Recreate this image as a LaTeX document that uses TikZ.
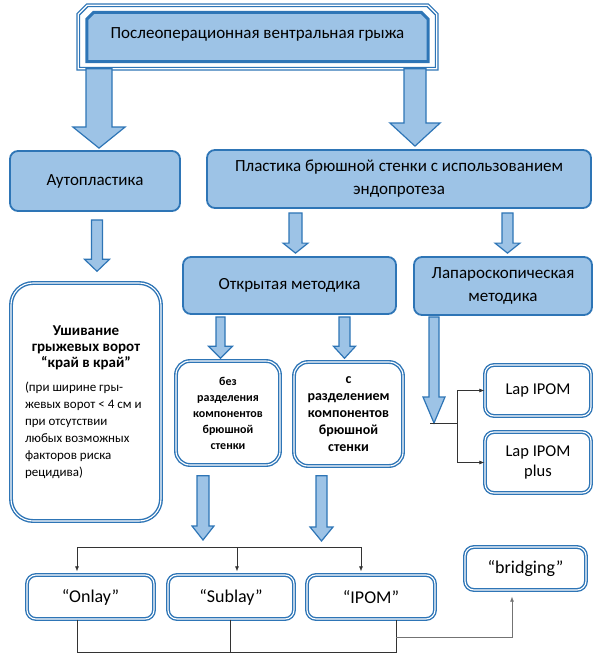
\documentclass[tikz,border=0pt]{standalone}
\usepackage{fontspec}
\setmainfont{Carlito}
\usetikzlibrary{arrows.meta,calc}

\definecolor{boxfill}{RGB}{157,195,230}
\definecolor{boxline}{RGB}{46,117,182}

\tikzset{
  bluebox/.style={rectangle,rounded corners=8pt,fill=boxfill,draw=boxline,line width=1.8pt,
    align=center,font=\fontsize{17}{23}\selectfont},
  whitebox/.style={rectangle,rounded corners=9pt,fill=white,draw=boxline,line width=1.4pt,
    double=white,double distance=1.1pt,align=center,font=\fontsize{18}{21}\selectfont},
  fatarrow/.style={fill=boxfill,draw=boxline,line width=1.2pt,line join=miter},
  link/.style={draw=black!80,line width=0.6pt},
}

% block arrow: start, tip, shaft half width, head half width, head length
\newcommand{\fatarrow}[5]{%
  \path[fatarrow] let \p1=#1, \p2=#2 in
    (\x1-#3,\y1) -- (\x1+#3,\y1) -- (\x1+#3,\y2+#5) -- (\x1+#4,\y2+#5) -- (\x1,\y2)
    -- (\x1-#4,\y2+#5) -- (\x1-#3,\y2+#5) -- cycle;
}

\begin{document}
\begin{tikzpicture}[x=1pt,y=-1pt,>={Latex[length=5pt,width=4pt]}]

	\useasboundingbox (0,0) rectangle (599,660);

	% top of the tree

	\node[minimum width=358pt,minimum height=63pt,inner sep=0pt] (topframe) at (257.5,37) {};
	\node[minimum width=341pt,minimum height=49pt,inner sep=0pt] (top) at (257.5,37) {};
	\draw[draw=boxline,line width=1.3pt,double=white,double distance=1.2pt,fill=white]
	  (topframe.south west) -- ($(topframe.north west)+(0,9)$) -- ($(topframe.north west)+(9,0)$)
	  -- ($(topframe.north east)+(-9,0)$) -- ($(topframe.north east)+(0,9)$) -- (topframe.south east) -- cycle;
	\draw[draw=boxline,line width=3pt,fill=boxfill]
	  (top.south west) -- ($(top.north west)+(0,7)$) -- ($(top.north west)+(7,0)$)
	  -- ($(top.north east)+(-7,0)$) -- ($(top.north east)+(0,7)$) -- (top.south east) -- cycle;
	\node[font=\fontsize{17}{20}\selectfont] (toptext) at ($(top.center)+(0,-3)$)
	  {Послеоперационная вентральная грыжа};

	\node[bluebox,minimum width=170pt,minimum height=60pt] (auto) at (95,181) {Аутопластика};
	\node[bluebox,minimum width=384pt,minimum height=58pt] (plast) at (399,179)
	  {Пластика брюшной стенки с использованием\\эндопротеза};

	% second level

	\node[whitebox,rounded corners=22pt,minimum width=150pt,minimum height=238pt] (suture) at (86,402)
	  {\parbox{122pt}{\centering\bfseries\fontsize{15}{16}\selectfont Ушивание\\грыжевых ворот\\“край в край”\par
	   \vspace{7pt}\raggedright\mdseries\fontsize{13}{17}\selectfont (при ширине гры-\\жевых ворот < 4 см и\\
	   при отсутствии\\любых возможных\\факторов риска\\рецидива)\par}};

	\node[bluebox,minimum width=213pt,minimum height=57pt] (open) at (289.5,285.5) {Открытая методика};
	\node[bluebox,minimum width=178pt,minimum height=58pt] (lap) at (503,286)
	  {Лапароскопическая\\методика};

	% third level

	\node[whitebox,rounded corners=14pt,minimum width=104pt,minimum height=104pt,
	  font=\bfseries\fontsize{12}{16}\selectfont]
	  (nosep) at (228,413) {без\\разделения\\компонентов\\брюшной\\стенки};
	\node[whitebox,rounded corners=14pt,minimum width=109pt,minimum height=104pt,
	  font=\bfseries\fontsize{14}{17}\selectfont]
	  (sep) at (348.5,414) {с\\разделением\\компонентов\\брюшной\\стенки};

	\node[whitebox,minimum width=106pt,minimum height=51pt,font=\fontsize{16.5}{20}\selectfont]
	  (lapipom) at (538,390.5) {Lap IPOM};
	\node[whitebox,minimum width=106pt,minimum height=61pt,font=\fontsize{16.5}{20}\selectfont]
	  (lapplus) at (538,462.5) {Lap IPOM\\plus};

	\node[whitebox,minimum width=127pt,minimum height=44pt] (onlay) at (90.5,597) {“Onlay”};
	\node[whitebox,minimum width=126pt,minimum height=44pt] (sublay) at (231,597) {“Sublay”};
	\node[whitebox,minimum width=128pt,minimum height=44pt] (ipom) at (371,597) {“IPOM”};
	\node[whitebox,minimum width=121pt,minimum height=43pt] (bridg) at (525.5,568.5) {“bridging”};

	% block arrows

	\fatarrow{(99,0 |- topframe.south)}{($(99,0 |- auto.north)+(0,-2)$)}{13pt}{26pt}{21pt}
	\fatarrow{(415,0 |- topframe.south)}{($(415,0 |- plast.north)+(0,-3)$)}{11pt}{25pt}{23pt}
	\fatarrow{($(97,0 |- auto.south)+(0,8)$)}{($(97,0 |- suture.north)+(0,-11)$)}{5.5pt}{12.5pt}{12pt}
	\fatarrow{($(295.5,0 |- plast.south)+(0,4)$)}{($(295.5,0 |- open.north)+(0,-3)$)}{6.5pt}{12.5pt}{10pt}
	\fatarrow{($(507.5,0 |- plast.south)+(0,4)$)}{($(507.5,0 |- lap.north)+(0,-3)$)}{5.5pt}{12.5pt}{10pt}
	\fatarrow{($(220.5,0 |- open.south)+(0,2)$)}{($(220.5,0 |- nosep.north)+(0,-2)$)}{4.5pt}{12pt}{12pt}
	\fatarrow{($(344.5,0 |- open.south)+(0,2)$)}{($(344.5,0 |- sep.north)+(0,-3)$)}{5.5pt}{11pt}{12pt}

	\coordinate (lapsplit) at (434,423);
	\fatarrow{($(434,0 |- lap.south)+(0,1)$)}{(lapsplit)}{5pt}{11pt}{26pt}

	\coordinate (barL) at (77,547);
	\coordinate (barM) at (237,547);
	\coordinate (barR) at (361,547);
	\fatarrow{($(203,0 |- nosep.south)+(0,10)$)}{($(203,0 |- barL)+(0,-7)$)}{6pt}{11pt}{14pt}
	\fatarrow{($(321.5,0 |- sep.south)+(0,9)$)}{($(321.5,0 |- barL)+(0,-6)$)}{5.5pt}{11.5pt}{14pt}

	% thin connectors

	\draw[link] ($(lapsplit)+(-4,0)$) -- (457,0 |- lapsplit) coordinate (fork);
	\draw[link,->] (fork) |- (lapipom.west);
	\draw[link,->] (fork) |- (lapplus.west);

	\draw[link] (barL) -- (barR);
	\draw[link,->,shorten >=3pt] (barL) -- (barL |- onlay.north);
	\draw[link,->,shorten >=3pt] (barM) -- (barM |- sublay.north);
	\draw[link,->,shorten >=3pt] (barR) -- (barR |- ipom.north);

	\coordinate (baseL) at (77,652);
	\coordinate (baseM) at (230,652);
	\coordinate (baseR) at (396,652);
	\draw[link] (baseL |- onlay.south) -- (baseL) -- (baseR) -- (baseR |- ipom.south);
	\draw[link] (baseM |- sublay.south) -- (baseM);
	\draw[link,draw=black!55,->,shorten >=6pt] (396,637) -| (512,0 |- bridg.south);

\end{tikzpicture}
\end{document}
